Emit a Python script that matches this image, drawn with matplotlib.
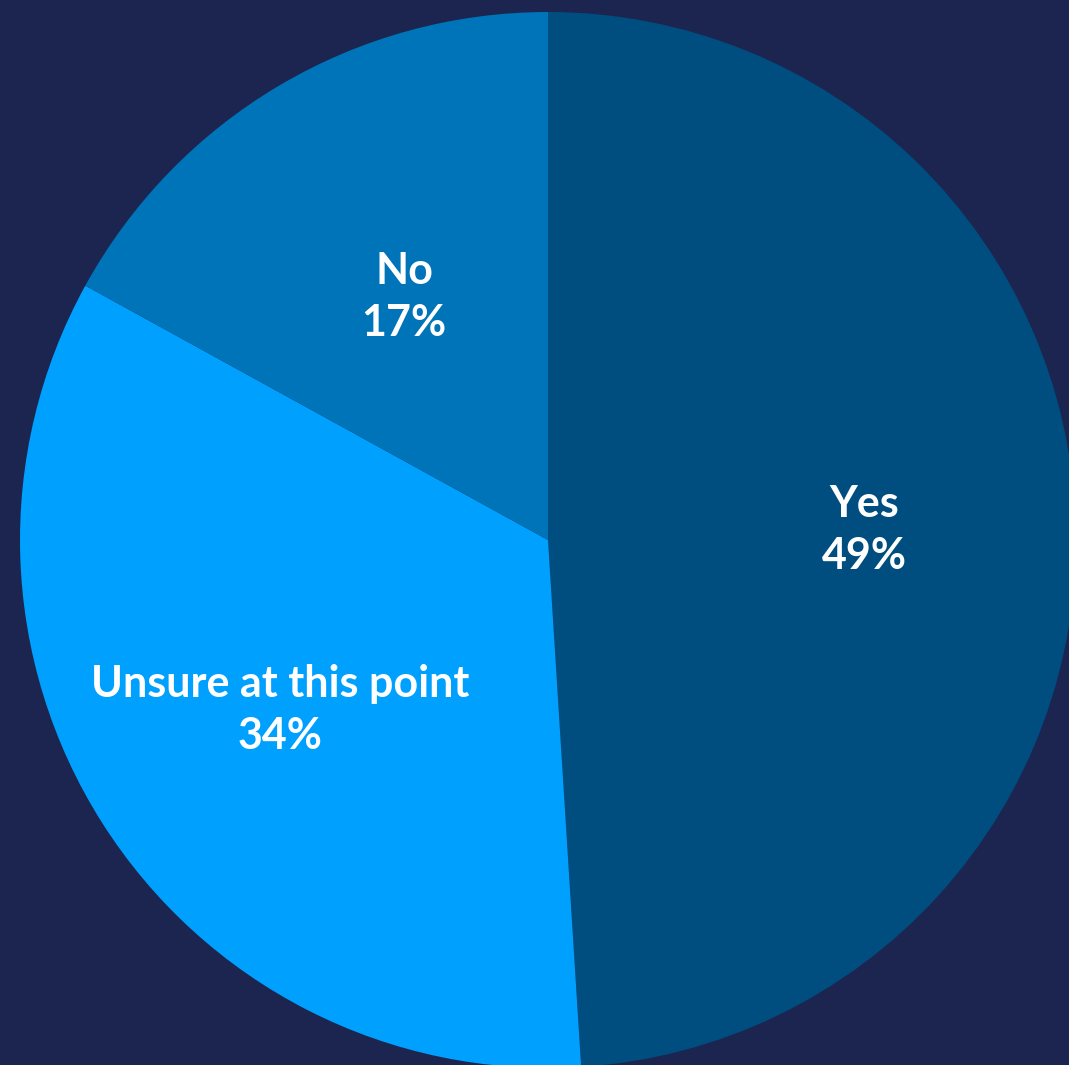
import numpy as np
import matplotlib.pyplot as plt

labels = ['Yes', 'Unsure at this point', 'No']
shares = [49, 34, 17]
colors = ['#004E80', '#00A0FF', '#0074B8']
# radial position of each label, as a fraction of the radius
label_r = [0.6, 0.6, 0.535]

W, H = 1069, 1065
fig = plt.figure(figsize=(W / 100, H / 100), dpi=100, facecolor='#1B2550')
ax = fig.add_axes([0, 0, 1, 1])
ax.set_facecolor('#1B2550')

cx, cy, R = 548, H - 540, 528
wedges, _ = ax.pie(shares, colors=colors, startangle=90, counterclock=False,
                   center=(cx, cy), radius=R,
                   wedgeprops=dict(linewidth=0))

for w, lab, val, r in zip(wedges, labels, shares, label_r):
    mid = np.deg2rad((w.theta1 + w.theta2) / 2)
    x = cx + r * R * np.cos(mid)
    y = cy + r * R * np.sin(mid)
    ax.text(x, y, f'{lab}\n{val}%', ha='center', va='center', color='white',
            fontsize=31, fontweight='bold', family=['Lato', 'DejaVu Sans'],
            linespacing=1.35)

ax.set_xlim(0, W)
ax.set_ylim(0, H)
ax.set_aspect('equal')
ax.axis('off')

fig.savefig('out.png', dpi=100, facecolor=fig.get_facecolor())
